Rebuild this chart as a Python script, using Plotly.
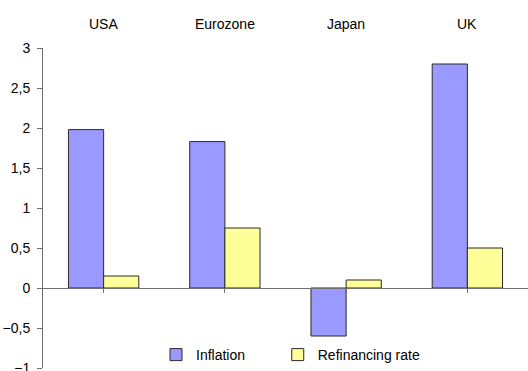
import plotly.graph_objects as go

# Inflation vs. central bank refinancing rate, by economy (%)
regions = ["USA", "Eurozone", "Japan", "UK"]
inflation = [1.98, 1.83, -0.6, 2.8]
refinancing_rate = [0.15, 0.75, 0.1, 0.5]
y_ticks = [-1, -0.5, 0, 0.5, 1, 1.5, 2, 2.5, 3]

font = dict(family="Liberation Sans, Arial, sans-serif", size=14, color="#000000")
axis_color = "#6e6e6e"
positions = list(range(len(regions)))

fig = go.Figure()
fig.add_trace(go.Bar(
    name="Inflation", x=positions, y=inflation, legend="legend",
    marker=dict(color="#9999FF", line=dict(color="#2a2a2a", width=1)),
))
fig.add_trace(go.Bar(
    name="Refinancing rate", x=positions, y=refinancing_rate, legend="legend2",
    marker=dict(color="#FFFF99", line=dict(color="#2a2a2a", width=1)),
))

# region names above the plot area, one per category
for pos, name in zip(positions, regions):
    fig.add_annotation(
        x=pos, xref="x", y=1, yref="paper", yanchor="middle", yshift=24,
        text=name, showarrow=False, font=font,
    )

legend_style = dict(
    orientation="h", y=0.04, xanchor="left", yanchor="middle",
    bgcolor="rgba(0,0,0,0)", font=font,
)

fig.update_layout(
    width=528, height=371,
    margin=dict(l=43, r=0, t=48, b=3),
    paper_bgcolor="white", plot_bgcolor="white",
    font=font,
    separators=", ",
    barmode="group", bargap=0.42, bargroupgap=0,
    showlegend=True,
    legend=dict(x=0.233, **legend_style),
    legend2=dict(x=0.484, **legend_style),
    # category axis line at zero with boundary ticks
    xaxis=dict(
        range=[-0.5, 3.5], anchor="free", position=0.25,
        tickmode="array", tickvals=positions, ticktext=regions,
        tickson="boundaries", ticks="outside", ticklen=4, tickcolor=axis_color,
        showticklabels=False, showline=True, linecolor=axis_color, linewidth=1,
        showgrid=False, zeroline=False, automargin=False,
    ),
    yaxis=dict(
        range=[-1, 3], tickmode="array", tickvals=y_ticks,
        ticks="outside", ticklen=5, tickcolor=axis_color,
        showline=True, linecolor=axis_color, linewidth=1,
        showgrid=False, zeroline=False, ticklabelstandoff=4,
        ticklabeloverflow="allow", automargin=False,
    ),
)

fig.write_html("out.html")
